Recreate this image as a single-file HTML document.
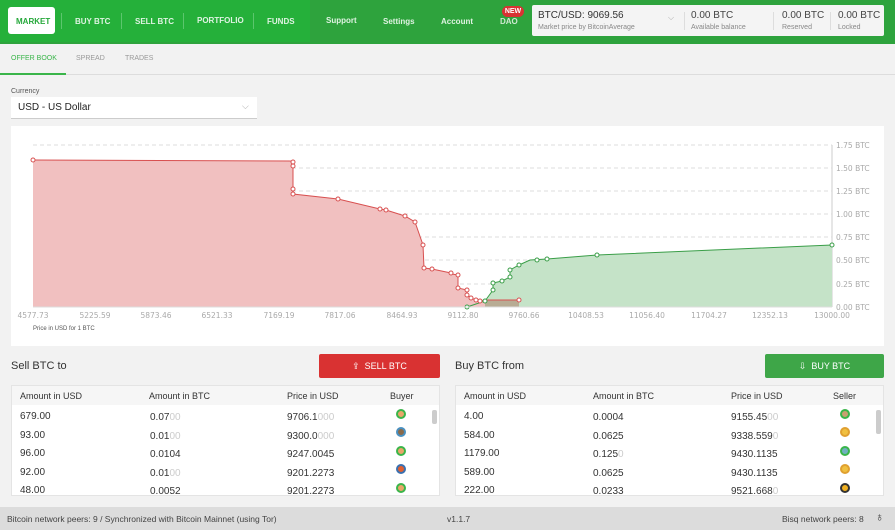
<!DOCTYPE html>
<html><head><meta charset="utf-8"><style>
*{margin:0;padding:0;box-sizing:border-box}
body{width:895px;height:530px;overflow:hidden;background:#f2f2f2;font-family:"Liberation Sans",sans-serif;position:relative;color:#333}
.a{position:absolute}
.hdr{left:0;top:0;width:895px;height:42px;background:#25b03a}
.hdr2{left:310px;top:0;width:585px;height:42px;background:#2ea33d}
.nav{color:#dff3e2;font-size:8px;font-weight:bold;top:17px}
.sep{width:1px;height:16px;background:#5cc66d;top:13px}
.sm{font-size:7px;color:#888}
table{border-collapse:collapse;font-size:10px}
.tbl{background:#fff;border:1px solid #e4e4e4}
.th{background:#f6f6f6;height:19px;font-size:9px;color:#333}
.cell{font-size:10px;color:#333}
.g{color:#ccc}
.av{width:10px;height:10px;border-radius:50%;border:2px solid #3ab54a;background:#e9a66a}
</style></head><body>
<div class="a hdr"></div><div class="a hdr2"></div>
<div class="a" style="left:8px;top:7px;width:47px;height:27px;background:#fff;border-radius:3px"></div>
<div class="a nav" style="left:16px;color:#25a83a">MARKET</div>
<div class="a sep" style="left:61px"></div>
<div class="a nav" style="left:75px">BUY BTC</div>
<div class="a sep" style="left:121px"></div>
<div class="a nav" style="left:135px">SELL BTC</div>
<div class="a sep" style="left:183px"></div>
<div class="a nav" style="left:197px;top:16px">PORTFOLIO</div>
<div class="a sep" style="left:253px"></div>
<div class="a nav" style="left:267px">FUNDS</div>
<div class="a nav" style="left:326px;top:16px">Support</div>
<div class="a nav" style="left:383px">Settings</div>
<div class="a nav" style="left:441px">Account</div>
<div class="a nav" style="left:500px;top:17px;color:#cfe9d2">DAO</div>
<div class="a" style="left:502px;top:6px;width:22px;height:11px;background:#d83333;border-radius:6px;color:#fff;font-size:7px;font-weight:bold;text-align:center;line-height:11px">NEW</div>
<div class="a" style="left:532px;top:5px;width:352px;height:31px;background:#f4f4f4;border-radius:2px"></div>
<div class="a" style="left:538px;top:10px;font-size:10px;color:#333">BTC/USD: 9069.56</div>
<div class="a sm" style="left:538px;top:24px">Market price by BitcoinAverage</div>
<div class="a" style="left:668px;top:13px;font-size:8px;color:#aaa">⌵</div>
<div class="a" style="left:684px;top:12px;width:1px;height:18px;background:#ddd"></div>
<div class="a" style="left:691px;top:10px;font-size:10px;color:#444">0.00 BTC</div>
<div class="a sm" style="left:691px;top:24px">Available balance</div>
<div class="a" style="left:773px;top:12px;width:1px;height:18px;background:#ddd"></div>
<div class="a" style="left:782px;top:10px;font-size:10px;color:#444">0.00 BTC</div>
<div class="a sm" style="left:782px;top:24px">Reserved</div>
<div class="a" style="left:830px;top:12px;width:1px;height:18px;background:#ddd"></div>
<div class="a" style="left:838px;top:10px;font-size:10px;color:#444">0.00 BTC</div>
<div class="a sm" style="left:838px;top:24px">Locked</div>

<div class="a" style="left:0;top:42px;width:895px;height:2px;background:#2ea33d"></div>
<div class="a" style="left:11px;top:55px;font-size:7px;color:#3ab54a">OFFER BOOK</div>
<div class="a" style="left:76px;top:55px;font-size:7px;color:#999">SPREAD</div>
<div class="a" style="left:125px;top:55px;font-size:7px;color:#999">TRADES</div>
<div class="a" style="left:0;top:74px;width:895px;height:1px;background:#ddd"></div>
<div class="a" style="left:0;top:73px;width:66px;height:2px;background:#3ab54a"></div>
<div class="a" style="left:11px;top:88px;font-size:7px;color:#555">Currency</div>
<div class="a" style="left:11px;top:97px;width:246px;height:22px;background:#fff;border-bottom:1px solid #ccc"></div>
<div class="a" style="left:18px;top:102px;font-size:10px;color:#222">USD  -  US Dollar</div>
<div class="a" style="left:242px;top:101px;font-size:9px;color:#aaa">⌵</div>

<div class="a" style="left:11px;top:126px;width:873px;height:220px;background:#fff"></div>
<svg class="a" style="left:0;top:0" width="895" height="350">
<g stroke="#ddd" stroke-dasharray="4,3" stroke-width="1">
<line x1="33" x2="832" y1="145" y2="145"/><line x1="33" x2="832" y1="168" y2="168"/><line x1="33" x2="832" y1="191" y2="191"/><line x1="33" x2="832" y1="214" y2="214"/><line x1="33" x2="832" y1="237" y2="237"/><line x1="33" x2="832" y1="260" y2="260"/><line x1="33" x2="832" y1="284" y2="284"/></g>
<line x1="832" x2="832" y1="145" y2="307" stroke="#ddd" stroke-width="1.5"/>
<polygon fill="#c5e3c8" points="467,307 485,301 493,290 493,283 502,281 510,277 510,270 519,265 530,260 547,259 597,255 832,245 832,307"/>
<polygon fill="#f1c0c0" points="33,160 293,161 293,166 293,189 293,194 338,199 380,209 386,210 405,216 415,222 423,245 424,268 432,269 451,273 452,274 458,275 458,288 467,290 467,295 471,298 476,300 480,301 485,300 519,300 519,307 33,307"/>
<polygon fill="#b8ac94" points="485,300 519,300 519,307 485,307"/>
<polyline fill="none" stroke="#3a9e48" points="467,307 485,301 493,290 493,283 502,281 510,277 510,270 519,265 530,260 547,259 597,255 832,245"/>
<polyline fill="none" stroke="#d85050" points="33,160 293,161 293,166 293,189 293,194 338,199 380,209 386,210 405,216 415,222 423,245 424,268 432,269 451,273 452,274 458,275 458,288 467,290 467,295 471,298 476,300 480,301 485,300 519,300"/>
<g fill="#fff" stroke="#d85050" stroke-width="1">
<circle cx="33" cy="160" r="2"/><circle cx="293" cy="162" r="2"/><circle cx="293" cy="166" r="2"/><circle cx="293" cy="189" r="2"/><circle cx="293" cy="194" r="2"/><circle cx="338" cy="199" r="2"/><circle cx="380" cy="209" r="2"/><circle cx="386" cy="210" r="2"/><circle cx="405" cy="216" r="2"/><circle cx="415" cy="222" r="2"/><circle cx="423" cy="245" r="2"/><circle cx="424" cy="268" r="2"/><circle cx="432" cy="269" r="2"/><circle cx="451" cy="273" r="2"/><circle cx="458" cy="275" r="2"/><circle cx="458" cy="288" r="2"/><circle cx="467" cy="290" r="2"/><circle cx="467" cy="295" r="2"/><circle cx="471" cy="298" r="2"/><circle cx="476" cy="300" r="2"/><circle cx="480" cy="301" r="2"/><circle cx="519" cy="300" r="2"/></g>
<g fill="#fff" stroke="#3a9e48" stroke-width="1">
<circle cx="467" cy="307" r="2"/><circle cx="485" cy="301" r="2"/><circle cx="493" cy="290" r="2"/><circle cx="493" cy="283" r="2"/><circle cx="502" cy="281" r="2"/><circle cx="510" cy="277" r="2"/><circle cx="510" cy="270" r="2"/><circle cx="519" cy="265" r="2"/><circle cx="537" cy="260" r="2"/><circle cx="547" cy="259" r="2"/><circle cx="597" cy="255" r="2"/><circle cx="832" cy="245" r="2"/></g>
<line x1="33" x2="832" y1="307" y2="307" stroke="#ddd"/>
<g font-size="7.5" fill="#aaa" font-family="DejaVu Sans,sans-serif">
<text x="836" y="148">1.75 BTC</text><text x="836" y="171">1.50 BTC</text><text x="836" y="194">1.25 BTC</text><text x="836" y="217">1.00 BTC</text><text x="836" y="240">0.75 BTC</text><text x="836" y="263">0.50 BTC</text><text x="836" y="287">0.25 BTC</text><text x="836" y="310">0.00 BTC</text>
<g text-anchor="middle"><text x="33" y="318">4577.73</text><text x="95" y="318">5225.59</text><text x="156" y="318">5873.46</text><text x="217" y="318">6521.33</text><text x="279" y="318">7169.19</text><text x="340" y="318">7817.06</text><text x="402" y="318">8464.93</text><text x="463" y="318">9112.80</text><text x="524" y="318">9760.66</text><text x="586" y="318">10408.53</text><text x="647" y="318">11056.40</text><text x="709" y="318">11704.27</text><text x="770" y="318">12352.13</text><text x="832" y="318">13000.00</text></g></g>
<text x="33" y="330" font-size="6" fill="#555">Price in USD for 1 BTC</text>
</svg>

<div class="a" style="left:11px;top:360px;font-size:11px;color:#333">Sell BTC to</div>
<div class="a" style="left:319px;top:354px;width:121px;height:24px;background:#d93232;border-radius:2px;color:#fff;font-size:9px;text-align:center;line-height:24px">⇪&nbsp; SELL BTC</div>
<div class="a" style="left:455px;top:360px;font-size:11px;color:#333">Buy BTC from</div>
<div class="a" style="left:765px;top:354px;width:119px;height:24px;background:#3ea648;border-radius:2px;color:#fff;font-size:9px;text-align:center;line-height:24px">⇩&nbsp; BUY BTC</div>

<div class="a tbl" style="left:11px;top:385px;width:429px;height:111px"></div>
<div class="a th" style="left:12px;top:386px;width:427px;background:#f6f6f6"></div>
<div class="a tbl" style="left:455px;top:385px;width:429px;height:111px"></div>
<div class="a th" style="left:456px;top:386px;width:427px"></div>

<div class="a" style="left:20px;top:391px;font-size:9px">Amount in USD</div>
<div class="a" style="left:149px;top:391px;font-size:9px">Amount in BTC</div>
<div class="a" style="left:287px;top:391px;font-size:9px">Price in USD</div>
<div class="a" style="left:390px;top:391px;font-size:9px">Buyer</div>
<div class="a" style="left:464px;top:391px;font-size:9px">Amount in USD</div>
<div class="a" style="left:593px;top:391px;font-size:9px">Amount in BTC</div>
<div class="a" style="left:731px;top:391px;font-size:9px">Price in USD</div>
<div class="a" style="left:833px;top:391px;font-size:9px">Seller</div>
<div class="a" style="left:432px;top:410px;width:5px;height:14px;background:#ccc;border-radius:2px"></div>
<div class="a" style="left:876px;top:410px;width:5px;height:24px;background:#ccc;border-radius:2px"></div>

<div class="a cell" style="left:20px;top:408px;line-height:18.6px">679.00<br>93.00<br>96.00<br>92.00<br>48.00</div>
<div class="a cell" style="left:150px;top:409px;line-height:18.6px">0.07<span class="g">00</span><br>0.01<span class="g">00</span><br>0.0104<br>0.01<span class="g">00</span><br>0.0052</div>
<div class="a cell" style="left:287px;top:409px;line-height:18.6px">9706.1<span class="g">000</span><br>9300.0<span class="g">000</span><br>9247.0045<br>9201.2273<br>9201.2273</div>
<div class="a cell" style="left:464px;top:408px;line-height:18.6px">4.00<br>584.00<br>1179.00<br>589.00<br>222.00</div>
<div class="a cell" style="left:593px;top:409px;line-height:18.6px">0.0004<br>0.0625<br>0.125<span class="g">0</span><br>0.0625<br>0.0233</div>
<div class="a cell" style="left:731px;top:409px;line-height:18.6px">9155.45<span class="g">00</span><br>9338.559<span class="g">0</span><br>9430.1135<br>9430.1135<br>9521.668<span class="g">0</span></div>

<div class="a av" style="left:396px;top:409px"></div><div class="a av" style="left:396px;top:427px;background:#8a6a4a;border-color:#4a90c0"></div><div class="a av" style="left:396px;top:446px"></div><div class="a av" style="left:396px;top:464px;background:#e06030;border-color:#3a70b0"></div><div class="a av" style="left:396px;top:483px"></div>
<div class="a av" style="left:840px;top:409px;background:#c9a070"></div><div class="a av" style="left:840px;top:427px;background:#f0c040;border-color:#e0a030"></div><div class="a av" style="left:840px;top:446px;background:#70b0c0"></div><div class="a av" style="left:840px;top:464px;background:#f0c040;border-color:#e0a030"></div><div class="a av" style="left:840px;top:483px;background:#f0b020;border-color:#333"></div>

<div class="a" style="left:0;top:507px;width:895px;height:23px;background:#dcdcdc"></div>
<div class="a" style="left:7px;top:514px;font-size:8.5px;color:#444">Bitcoin network peers: 9 / Synchronized with Bitcoin Mainnet (using Tor)</div>
<div class="a" style="left:447px;top:514px;font-size:8.5px;color:#444">v1.1.7</div>
<div class="a" style="left:782px;top:514px;font-size:8.5px;color:#444">Bisq network peers: 8</div>
<div class="a" style="left:875px;top:510px;font-size:12px;color:#333">♁</div>
</body></html>
